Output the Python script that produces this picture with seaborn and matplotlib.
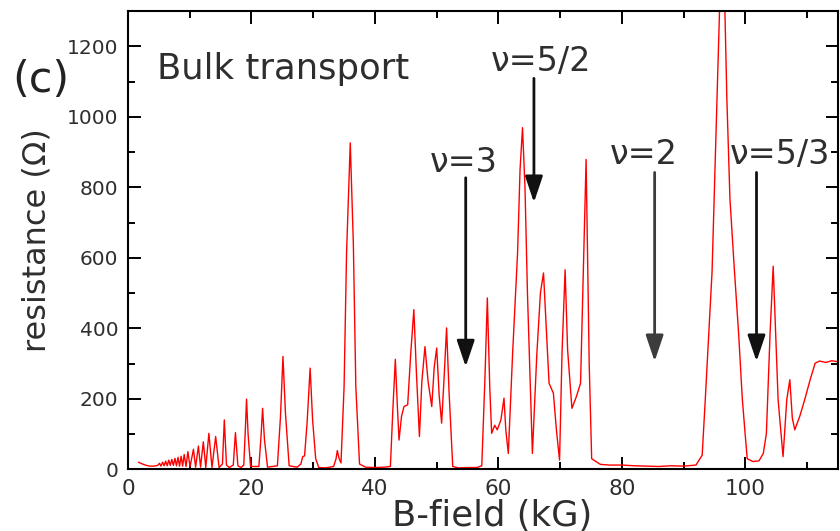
import matplotlib
matplotlib.use("Agg")
import matplotlib.pyplot as plt
import numpy as np
import pandas as pd
import seaborn as sns
from matplotlib.ticker import MultipleLocator

# ---------------- data ----------------
b_field = [
    1.7, 2.2, 2.8, 3.5, 4.2, 4.8, 5.1, 5.35, 5.6, 5.85, 6.1, 6.35, 6.6, 6.85, 7.1, 7.35,
    7.6, 7.85, 8.1, 8.35, 8.6, 8.85, 9.1, 9.4, 9.7, 10.05, 10.6, 10.95, 11.4, 11.75, 12.2,
    12.6, 13.1, 13.6, 14.2, 14.75, 15.3, 15.6, 15.95, 16.4, 17.05, 17.4, 17.8, 18.3, 18.75,
    19.0, 19.2, 19.45, 19.85, 21.2, 21.55, 21.8, 22.1, 22.6, 24.2, 24.7, 25.1, 25.5, 26.1,
    27.4, 28.0, 28.3, 28.6, 29.0, 29.5, 29.9, 30.4, 30.9, 32.0, 33.3, 33.7, 33.9, 34.2,
    34.5, 35.0, 35.4, 36.0, 36.5, 36.9, 37.5, 38.5, 40.0, 41.5, 42.5, 42.9, 43.3, 43.6,
    43.9, 44.3, 44.7, 45.3, 45.8, 46.3, 46.7, 47.2, 47.6, 48.1, 48.6, 49.2, 49.6, 50.0,
    50.4, 50.8, 51.2, 51.6, 52.0, 52.6, 53.5, 55.0, 56.5, 57.3, 57.8, 58.2, 58.6, 58.9,
    59.4, 59.8, 60.4, 60.9, 61.2, 61.6, 62.3, 63.1, 63.5, 63.9, 64.3, 64.7, 65.5, 66.2,
    66.8, 67.3, 67.7, 68.2, 68.9, 69.4, 69.9, 70.3, 70.8, 71.2, 71.9, 72.6, 73.3, 73.8,
    74.2, 74.7, 75.1, 76.5, 78.0, 80.0, 82.0, 84.0, 86.0, 88.0, 90.0, 92.0, 93.0, 93.5,
    94.6, 95.4, 96.3, 97.0, 97.5, 98.2, 98.9, 99.5, 99.95, 100.3, 101.2, 102.2, 102.9,
    103.4, 104.0, 104.5, 104.9, 105.3, 106.1, 106.7, 107.2, 107.6, 108.0, 108.8, 109.6,
    110.5, 111.3, 112.0, 113.0, 114.0, 115.0,
]
resistance = [
    20, 16, 12, 9, 9, 11, 17, 9, 20, 10, 23, 10, 26, 11, 28, 11,
    31, 10, 34, 9, 37, 9, 42, 8, 50, 7, 57, 6, 66, 6, 78,
    5, 102, 5, 93, 5, 15, 140, 12, 5, 12, 104, 10, 5, 12,
    110, 199, 100, 8, 8, 95, 173, 85, 6, 10, 150, 320, 160, 10,
    6, 15, 36, 38, 130, 287, 140, 30, 5, 4, 8, 30, 53, 30,
    18, 235, 614, 926, 640, 235, 15, 6, 5, 6, 8, 170, 312, 190,
    83, 150, 178, 183, 330, 453, 280, 93, 250, 348, 250, 178, 290, 344,
    210, 131, 260, 401, 220, 8, 4, 5, 5, 10, 250, 486, 230, 102,
    125, 112, 140, 202, 110, 45, 330, 614, 850, 969, 800, 500, 45, 320,
    500, 557, 420, 244, 216, 110, 26, 330, 566, 340, 173, 205, 244, 600,
    879, 300, 30, 14, 12, 12, 10, 9, 8, 10, 9, 12, 40, 197,
    560, 1050, 1600, 1050, 766, 570, 386, 200, 102, 30, 22, 24, 45,
    102, 386, 576, 386, 197, 36, 197, 254, 145, 112, 150, 197,
    255, 301, 307, 303, 308, 305,
]

x_ticks = [0, 20, 40, 60, 80, 100]
y_ticks = [0, 200, 400, 600, 800, 1000, 1200]

nu_labels = ["ν=3", "ν=5/2", "ν=2", "ν=5/3"]
nu_arrow_field = [54.7, 65.75, 85.3, 101.8]      # kG
nu_arrow_top = [827, 1109, 842, 842]             # Ω
nu_arrow_tip = [291, 757, 306, 306]              # Ω

# ---------------- layout ----------------
nu_label_pos = [(54.4, 842), (66.96, 1129), (83.6, 865), (105.6, 865)]
arrow_colors = ["#111111", "#111111", "#3c3c3c", "#111111"]

sns.set_style("ticks")
plt.rcParams["font.family"] = ["DejaVu Sans"]

fig = plt.figure(figsize=(8.4, 5.31), dpi=100)
ax = fig.add_axes([0.15238, 0.11620, 0.84524, 0.86308])

df = pd.DataFrame({"B": b_field, "R": resistance})
sns.lineplot(data=df, x="B", y="R", ax=ax, color="#ff0000", lw=1.0,
             estimator=None, sort=False)

ax.set_xlim(0, 115)
ax.set_ylim(0, 1300)
ax.set_xticks(x_ticks)
ax.set_yticks(y_ticks)
ax.xaxis.set_minor_locator(MultipleLocator(10))
ax.yaxis.set_minor_locator(MultipleLocator(100))

for s in ax.spines.values():
    s.set_visible(True)
    s.set_linewidth(1.5)
    s.set_color("black")

ax.tick_params(which="both", direction="in", top=True, right=True,
               width=1.4, color="black")
ax.tick_params(which="major", length=9)
ax.tick_params(which="minor", length=5)
ax.tick_params(axis="x", labelsize=15.5, pad=7, labelcolor="#2e2e2e")
ax.tick_params(axis="y", labelsize=14.5, pad=7, labelcolor="#2e2e2e")

ax.set_xlabel("B-field (kG)", fontsize=25.5, color="#2e2e2e")
ax.xaxis.set_label_coords(0.513, -0.064)
ax.set_ylabel("resistance (Ω)", fontsize=23, color="#2e2e2e")
ax.yaxis.set_label_coords(-0.107, 0.5)

ax.text(4.7, 1106, "Bulk transport", fontsize=25.5, color="#2e2e2e",
        ha="left", va="baseline")
fig.text(41 / 840, 1 - 92 / 531, "(c)", fontsize=31,
         color="#222222", ha="center", va="baseline")

for lab, bx, top, tip, (lx, ly), col in zip(nu_labels, nu_arrow_field, nu_arrow_top,
                                            nu_arrow_tip, nu_label_pos, arrow_colors):
    ax.annotate("", xy=(bx, tip), xytext=(bx, top),
                arrowprops=dict(arrowstyle="-|>,head_length=0.8,head_width=0.27",
                                mutation_scale=20, lw=2.0, color=col,
                                shrinkA=0, shrinkB=0))
    ax.text(lx, ly, lab, fontsize=24, color="#2e2e2e", ha="center", va="baseline")

fig.savefig("out.png", dpi=100)
